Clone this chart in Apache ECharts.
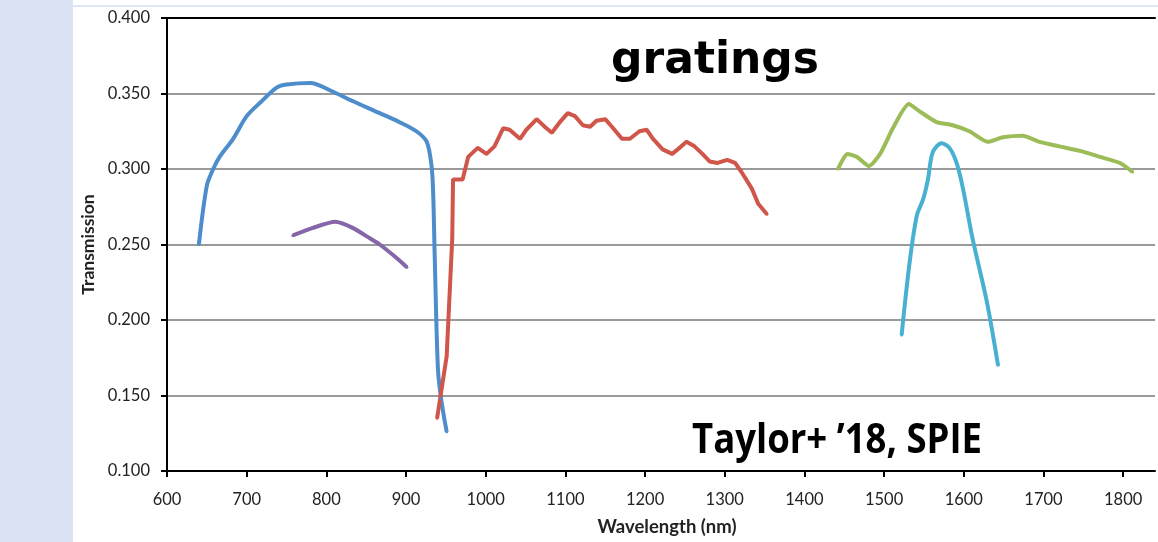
<!DOCTYPE html>
<html>
<head>
<meta charset="utf-8">
<script src="https://cdn.jsdelivr.net/npm/echarts@6/dist/echarts.min.js"></script>
<style>
  html, body { margin: 0; padding: 0; background: #fff; }
  #chart { width: 1158px; height: 542px; }
</style>
</head>
<body>
<div id="chart"></div>
<script>
// wavelength (nm), transmission pairs
const bluePts = [
  [640, 0.250], [650, 0.289], [658, 0.300], [666, 0.308], [683, 0.320], [700, 0.335],
  [717, 0.344], [738, 0.354], [750, 0.356], [780, 0.357], [805, 0.352], [833, 0.345],
  [867, 0.337], [892, 0.331], [913, 0.325], [926, 0.318], [932, 0.302], [934, 0.285],
  [936, 0.242], [940, 0.168], [944, 0.148], [951, 0.126]
];
const purplePts = [
  [758, 0.256], [783, 0.261], [811, 0.265], [833, 0.261], [855, 0.254], [867, 0.250],
  [886, 0.242], [901, 0.235]
];
const redPts = [
  [939, 0.135], [951, 0.176], [958, 0.254], [959, 0.293], [971, 0.293], [978, 0.308],
  [990, 0.314], [1001, 0.310], [1011, 0.315], [1022, 0.327], [1030, 0.326], [1043, 0.320],
  [1051, 0.326], [1064, 0.333], [1074, 0.328], [1083, 0.324], [1093, 0.331], [1103, 0.337],
  [1112, 0.335], [1122, 0.329], [1131, 0.328], [1139, 0.332], [1150, 0.333], [1160, 0.327],
  [1171, 0.320], [1181, 0.320], [1193, 0.325], [1202, 0.326], [1210, 0.320], [1222, 0.313],
  [1234, 0.310], [1241, 0.313], [1252, 0.318], [1262, 0.315], [1272, 0.310], [1281, 0.305],
  [1291, 0.304], [1303, 0.306], [1313, 0.304], [1321, 0.298], [1334, 0.287], [1342, 0.277],
  [1353, 0.270]
];
const greenPts = [
  [1442, 0.300], [1454, 0.310], [1466, 0.308], [1481, 0.302], [1495, 0.310], [1511, 0.327],
  [1531, 0.343], [1545, 0.338], [1566, 0.331], [1586, 0.329], [1607, 0.325], [1630, 0.318],
  [1649, 0.321], [1674, 0.322], [1695, 0.318], [1720, 0.315], [1746, 0.312], [1771, 0.308],
  [1796, 0.304], [1812, 0.298]
];
const cyanPts = [
  [1522, 0.190], [1532, 0.238], [1541, 0.269], [1549, 0.280], [1555, 0.293], [1561, 0.311],
  [1572, 0.317], [1582, 0.314], [1591, 0.304], [1599, 0.287], [1611, 0.254], [1629, 0.212],
  [1643, 0.170]
];
const xTicks = [600, 700, 800, 900, 1000, 1100, 1200, 1300, 1400, 1500, 1600, 1700, 1800];

const chart = echarts.init(document.getElementById('chart'));

function line(data, color, smooth) {
  return {
    type: 'line',
    data: data,
    smooth: smooth,
    showSymbol: true,
    symbol: 'circle',
    symbolSize: 3,
    itemStyle: { color: color },
    lineStyle: { color: color, width: 4 },
    animation: false
  };
}

const labelFont = { fontFamily: 'Lato', fontSize: 16.5, color: '#222' };

const option = {
  backgroundColor: '#fff',
  grid: { left: 167, right: 3, top: 18, bottom: 69 },
  xAxis: [{
    type: 'value',
    min: 600,
    max: 1840,
    interval: 100,
    name: 'Wavelength (nm)',
    nameLocation: 'middle',
    nameGap: 47,
    nameTextStyle: { fontFamily: 'Lato', fontWeight: 'bold', fontSize: 18.5, color: '#222', padding: [0, 0, 0, 12] },
    axisLine: { lineStyle: { color: '#000', width: 2 } },
    axisTick: { customValues: xTicks, length: 6, lineStyle: { color: '#000', width: 2 } },
    axisLabel: Object.assign({ customValues: xTicks, margin: 20, formatter: v => String(v) }, labelFont),
    splitLine: { show: false }
  }, {
    type: 'value',
    position: 'top',
    min: 600,
    max: 1840,
    axisLine: { show: true, lineStyle: { color: '#000', width: 2 } },
    axisTick: { show: false },
    axisLabel: { show: false },
    splitLine: { show: false }
  }],
  yAxis: {
    type: 'value',
    min: 0.1,
    max: 0.4,
    interval: 0.05,
    name: 'Transmission',
    nameLocation: 'middle',
    nameGap: 70,
    nameRotate: 90,
    nameTextStyle: { fontFamily: 'Lato', fontWeight: 'bold', fontSize: 17.5, color: '#222' },
    axisLine: { show: true, lineStyle: { color: '#000', width: 2 } },
    axisTick: { show: true, length: 6, lineStyle: { color: '#000', width: 2 } },
    axisLabel: Object.assign({ margin: 17, formatter: v => v.toFixed(3) }, labelFont),
    splitLine: { lineStyle: { color: '#9a9a9a', width: 2 } }
  },
  series: [
    line(bluePts, '#4e8dcc', 0.3),
    line(purplePts, '#8666a8', 0.2),
    line(redPts, '#d0564b', false),
    line(greenPts, '#9cbc58', 0.2),
    line(cyanPts, '#48b0d0', 0.3)
  ],
  graphic: [
    { type: 'rect', left: 0, top: 0, shape: { width: 73, height: 542 }, style: { fill: '#dae3f3' }, z: -10 },
    { type: 'rect', left: 73, top: 5, shape: { width: 1085, height: 2 }, style: { fill: '#dde6f4' }, z: -10 },
    {
      type: 'text', x: 715, y: 62,
      style: {
        text: 'gratings', fill: '#000', align: 'center', verticalAlign: 'middle',
        font: 'bold 44px "Comic Sans MS", "DejaVu Sans", sans-serif'
      }
    },
    {
      type: 'text', x: 837, y: 441, scaleX: 0.87,
      style: {
        text: 'Taylor+ \u201918, SPIE', fill: '#000', align: 'center', verticalAlign: 'middle',
        font: 'bold 42px "Open Sans", sans-serif'
      }
    }
  ]
};

chart.setOption(option);
</script>
</body>
</html>
